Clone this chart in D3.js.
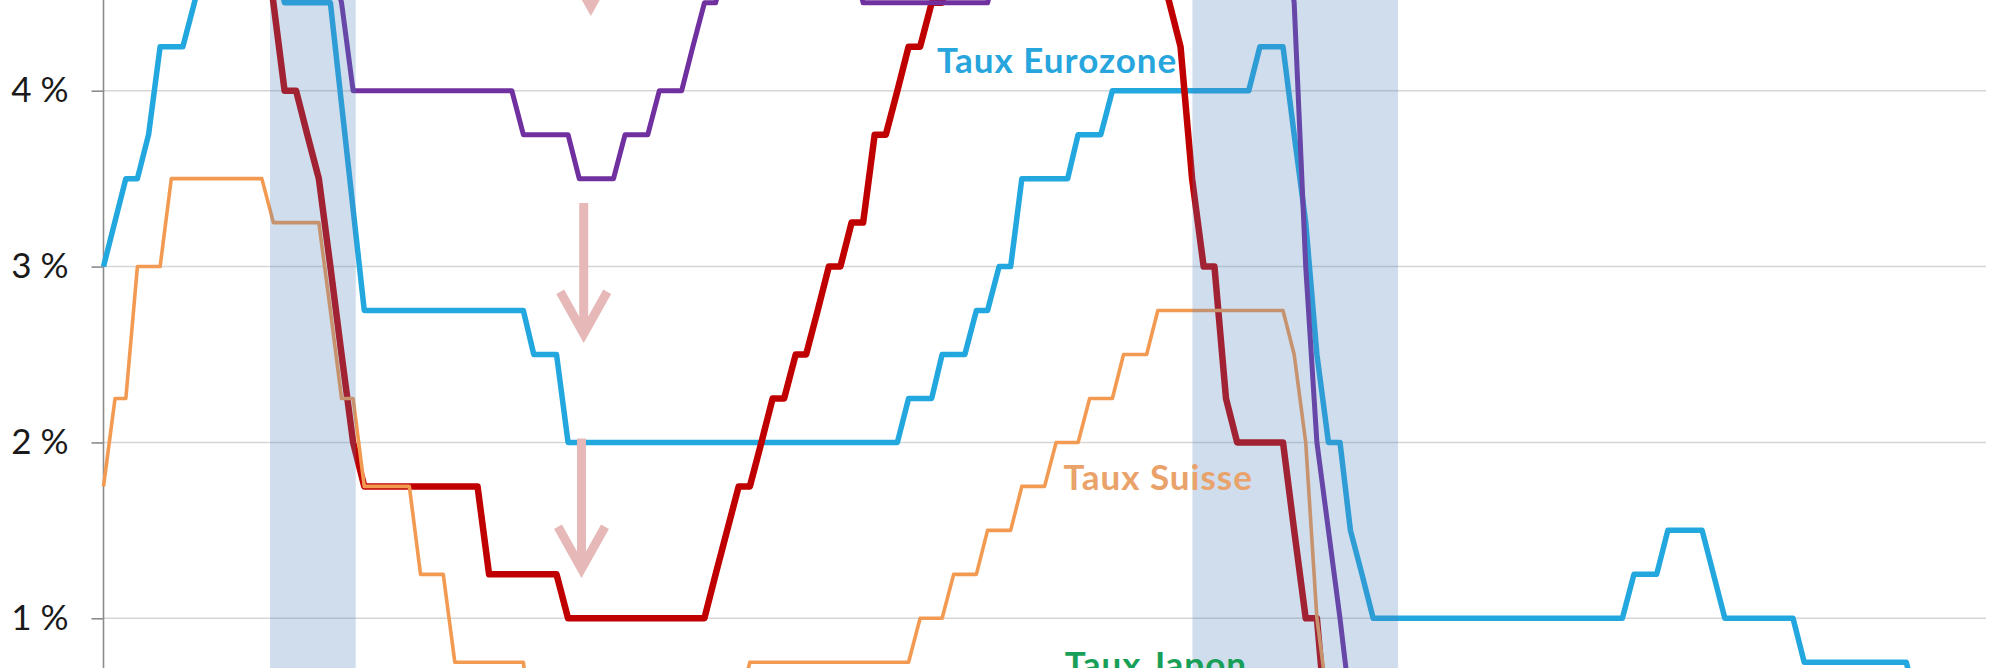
<!DOCTYPE html>
<html>
<head>
<meta charset="utf-8">
<script src="https://cdn.jsdelivr.net/npm/d3@7"></script>
<style>
  body { margin: 0; background: #fff; }
  svg { display: block; font-family: Lato, "Open Sans", sans-serif; }
</style>
</head>
<body>
<div id="chart"></div>
<script>
// Monthly policy rates (%)
const tauxEurozone = [
  ["2000-01", 3.0], ["2000-03", 3.5], ["2000-04", 3.5], ["2000-05", 3.75], ["2000-06", 4.25],
  ["2000-08", 4.25], ["2000-09", 4.5], ["2000-10", 4.75], ["2001-04", 4.75], ["2001-05", 4.5],
  ["2001-09", 4.5], ["2001-12", 2.75], ["2003-02", 2.75], ["2003-03", 2.5], ["2003-05", 2.5],
  ["2003-06", 2.0], ["2005-11", 2.0], ["2005-12", 2.25], ["2006-02", 2.25], ["2006-03", 2.5],
  ["2006-05", 2.5], ["2006-06", 2.75], ["2006-07", 2.75], ["2006-08", 3.0], ["2006-09", 3.0],
  ["2006-10", 3.5], ["2007-02", 3.5], ["2007-03", 3.75], ["2007-05", 3.75], ["2007-06", 4.0],
  ["2008-06", 4.0], ["2008-07", 4.25], ["2008-09", 4.25], ["2008-10", 3.75], ["2008-11", 3.25],
  ["2008-12", 2.5], ["2009-01", 2.0], ["2009-02", 2.0], ["2009-03", 1.5], ["2009-04", 1.25],
  ["2009-05", 1.0], ["2011-03", 1.0], ["2011-04", 1.25], ["2011-06", 1.25], ["2011-07", 1.5],
  ["2011-10", 1.5], ["2011-12", 1.0], ["2012-06", 1.0], ["2012-07", 0.75], ["2013-04", 0.75],
  ["2013-05", 0.5]
];

const tauxUSA = [
  ["2000-01", 5.5], ["2000-03", 6.0], ["2000-05", 6.5], ["2000-12", 6.5], ["2001-01", 6.0],
  ["2001-02", 5.5], ["2001-03", 5.0], ["2001-04", 4.5], ["2001-05", 4.0], ["2001-06", 4.0],
  ["2001-07", 3.75], ["2001-08", 3.5], ["2001-09", 3.0], ["2001-10", 2.5], ["2001-11", 2.0],
  ["2001-12", 1.75], ["2002-10", 1.75], ["2002-11", 1.25], ["2003-05", 1.25], ["2003-06", 1.0],
  ["2004-06", 1.0], ["2004-07", 1.25], ["2004-08", 1.5], ["2004-09", 1.75], ["2004-10", 1.75],
  ["2004-11", 2.0], ["2004-12", 2.25], ["2005-01", 2.25], ["2005-02", 2.5], ["2005-03", 2.5],
  ["2005-04", 2.75], ["2005-05", 3.0], ["2005-06", 3.0], ["2005-07", 3.25], ["2005-08", 3.25],
  ["2005-09", 3.75], ["2005-10", 3.75], ["2005-11", 4.0], ["2005-12", 4.25], ["2006-01", 4.25],
  ["2006-02", 4.5], ["2006-03", 4.5], ["2006-04", 4.75], ["2006-05", 5.0], ["2006-07", 5.25],
  ["2007-09", 5.25], ["2007-10", 4.75], ["2007-11", 4.5], ["2007-12", 4.25], ["2008-01", 3.5],
  ["2008-02", 3.0], ["2008-03", 3.0], ["2008-04", 2.25], ["2008-05", 2.0], ["2008-09", 2.0],
  ["2008-10", 1.5], ["2008-11", 1.0], ["2008-12", 1.0], ["2009-01", 0.25], ["2013-10", 0.25]
];

const tauxUK = [
  ["2000-01", 5.75], ["2000-02", 6.0], ["2001-01", 6.0], ["2001-02", 5.75], ["2001-04", 5.5],
  ["2001-05", 5.25], ["2001-08", 5.0], ["2001-09", 4.75], ["2001-10", 4.5], ["2001-11", 4.0],
  ["2003-01", 4.0], ["2003-02", 3.75], ["2003-06", 3.75], ["2003-07", 3.5], ["2003-10", 3.5],
  ["2003-11", 3.75], ["2004-01", 3.75], ["2004-02", 4.0], ["2004-04", 4.0], ["2004-05", 4.25],
  ["2004-06", 4.5], ["2004-07", 4.5], ["2004-08", 4.75], ["2005-07", 4.75], ["2005-08", 4.5],
  ["2006-07", 4.5], ["2006-08", 4.75], ["2006-11", 5.0], ["2007-01", 5.25], ["2007-05", 5.5],
  ["2007-07", 5.75], ["2007-12", 5.5], ["2008-02", 5.25], ["2008-04", 5.0], ["2008-09", 5.0],
  ["2008-10", 4.5], ["2008-11", 3.0], ["2008-12", 2.0], ["2009-01", 1.5], ["2009-02", 1.0],
  ["2009-03", 0.5], ["2013-10", 0.5]
];

const tauxSuisse = [
  ["2000-01", 1.75], ["2000-02", 2.25], ["2000-03", 2.25], ["2000-04", 3.0], ["2000-06", 3.0],
  ["2000-07", 3.5], ["2001-03", 3.5], ["2001-04", 3.25], ["2001-08", 3.25], ["2001-09", 2.75],
  ["2001-10", 2.25], ["2001-11", 2.25], ["2001-12", 1.75], ["2002-04", 1.75], ["2002-05", 1.25],
  ["2002-07", 1.25], ["2002-08", 0.75], ["2003-02", 0.75], ["2003-03", 0.25], ["2004-05", 0.25],
  ["2004-06", 0.5], ["2004-09", 0.5], ["2004-10", 0.75], ["2005-12", 0.75], ["2006-01", 1.0],
  ["2006-03", 1.0], ["2006-04", 1.25], ["2006-06", 1.25], ["2006-07", 1.5], ["2006-09", 1.5],
  ["2006-10", 1.75], ["2006-12", 1.75], ["2007-01", 2.0], ["2007-03", 2.0], ["2007-04", 2.25],
  ["2007-06", 2.25], ["2007-07", 2.5], ["2007-09", 2.5], ["2007-10", 2.75], ["2008-09", 2.75],
  ["2008-10", 2.5], ["2008-11", 2.0], ["2008-12", 1.0], ["2009-01", 0.5], ["2009-03", 0.25],
  ["2013-10", 0.25]
];

// Recession periods (shaded)
const recessions = [["2001-03-23", "2001-11-08"], ["2008-01-02", "2009-07-07"]];

const yTicks = [1, 2, 3, 4];

const width = 2000, height = 668;
const parseMonth = d3.timeParse("%Y-%m");
const parseDay = d3.timeParse("%Y-%m-%d");

const x = d3.scaleTime()
  .domain([parseMonth("2000-01"), parseMonth("2013-11")])
  .range([103.5, 1986]);
const y = d3.scaleLinear().domain([1, 4]).range([618.3, 90.7]);

const svg = d3.select("#chart").append("svg")
  .attr("width", width)
  .attr("height", height)
  .style("background", "#fff");

// gridlines
svg.append("g").selectAll("line")
  .data(yTicks)
  .enter().append("line")
  .attr("x1", x.range()[0]).attr("x2", x.range()[1])
  .attr("y1", d => y(d)).attr("y2", d => y(d))
  .attr("stroke", "#d6d6d6")
  .attr("stroke-width", 1.6);

// y axis
const yAxis = d3.axisLeft(y)
  .tickValues(yTicks)
  .tickSize(12)
  .tickPadding(23)
  .tickFormat(d => d + " %");

const axisG = svg.append("g")
  .attr("transform", `translate(${x.range()[0]},0)`)
  .call(yAxis);
axisG.select(".domain").remove();
axisG.selectAll(".tick line").attr("stroke", "#8c8c8c").attr("stroke-width", 1.6);
axisG.selectAll(".tick text")
  .attr("fill", "#1a1a1a")
  .style("font-size", "35px")
  .style("font-family", "Lato, 'Open Sans', sans-serif");
axisG.append("line")
  .attr("x1", 0).attr("x2", 0)
  .attr("y1", 0).attr("y2", height)
  .attr("stroke", "#8c8c8c")
  .attr("stroke-width", 1.6);

// series lines
const line = d3.line()
  .x(d => x(parseMonth(d[0])))
  .y(d => y(d[1]));

const series = [
  { data: tauxEurozone, color: "#23a7df", width: 5.5 },
  { data: tauxUSA, color: "#c00000", width: 6.5 },
  { data: tauxUK, color: "#7030a0", width: 5 },
  { data: tauxSuisse, color: "#f39a52", width: 3.6 }
];

svg.append("g").selectAll("path")
  .data(series)
  .enter().append("path")
  .attr("d", d => line(d.data))
  .attr("fill", "none")
  .attr("stroke", d => d.color)
  .attr("stroke-width", d => d.width)
  .attr("stroke-linejoin", "round");

// down arrows (annotation)
const arrows = [
  { date: "2003-08-01", from: 5.25, to: 4.46 },
  { date: "2003-07-13", from: 3.361, to: 2.601 },
  { date: "2003-07-07", from: 2.023, to: 1.265 }
];
const arrowG = svg.append("g")
  .attr("stroke", "#e6b9b8")
  .attr("stroke-width", 9)
  .attr("fill", "none");
arrows.forEach(a => {
  const ax = x(parseDay(a.date)), y0 = y(a.from), y1 = y(a.to);
  arrowG.append("line")
    .attr("x1", ax).attr("x2", ax)
    .attr("y1", y0).attr("y2", y1 - 4);
  arrowG.append("polyline")
    .attr("points", [[ax - 23.5, y1 - 45], [ax, y1 - 3], [ax + 23.5, y1 - 45]].join(" "))
    .attr("stroke-linejoin", "miter");
});

// recession bands, drawn over the lines
svg.append("g").selectAll("rect")
  .data(recessions)
  .enter().append("rect")
  .attr("x", d => x(parseDay(d[0])))
  .attr("width", d => x(parseDay(d[1])) - x(parseDay(d[0])))
  .attr("y", 0)
  .attr("height", height)
  .attr("fill", "#4f81bd")
  .attr("fill-opacity", 0.27);

// series labels
const labels = [
  { text: "Taux Eurozone", date: "2006-02-15", value: 4.10, color: "#27a5dd" },
  { text: "Taux Suisse", date: "2007-01-21", value: 1.73, color: "#e9a26a" },
  { text: "Taux Japon", date: "2007-01-24", value: 0.668, color: "#18a058" }
];
svg.append("g").selectAll("text")
  .data(labels)
  .enter().append("text")
  .attr("x", d => x(parseDay(d.date)))
  .attr("y", d => y(d.value))
  .attr("fill", d => d.color)
  .style("font-size", "35px")
  .style("font-weight", 700)
  .style("letter-spacing", "1px")
  .text(d => d.text);
</script>
</body>
</html>
